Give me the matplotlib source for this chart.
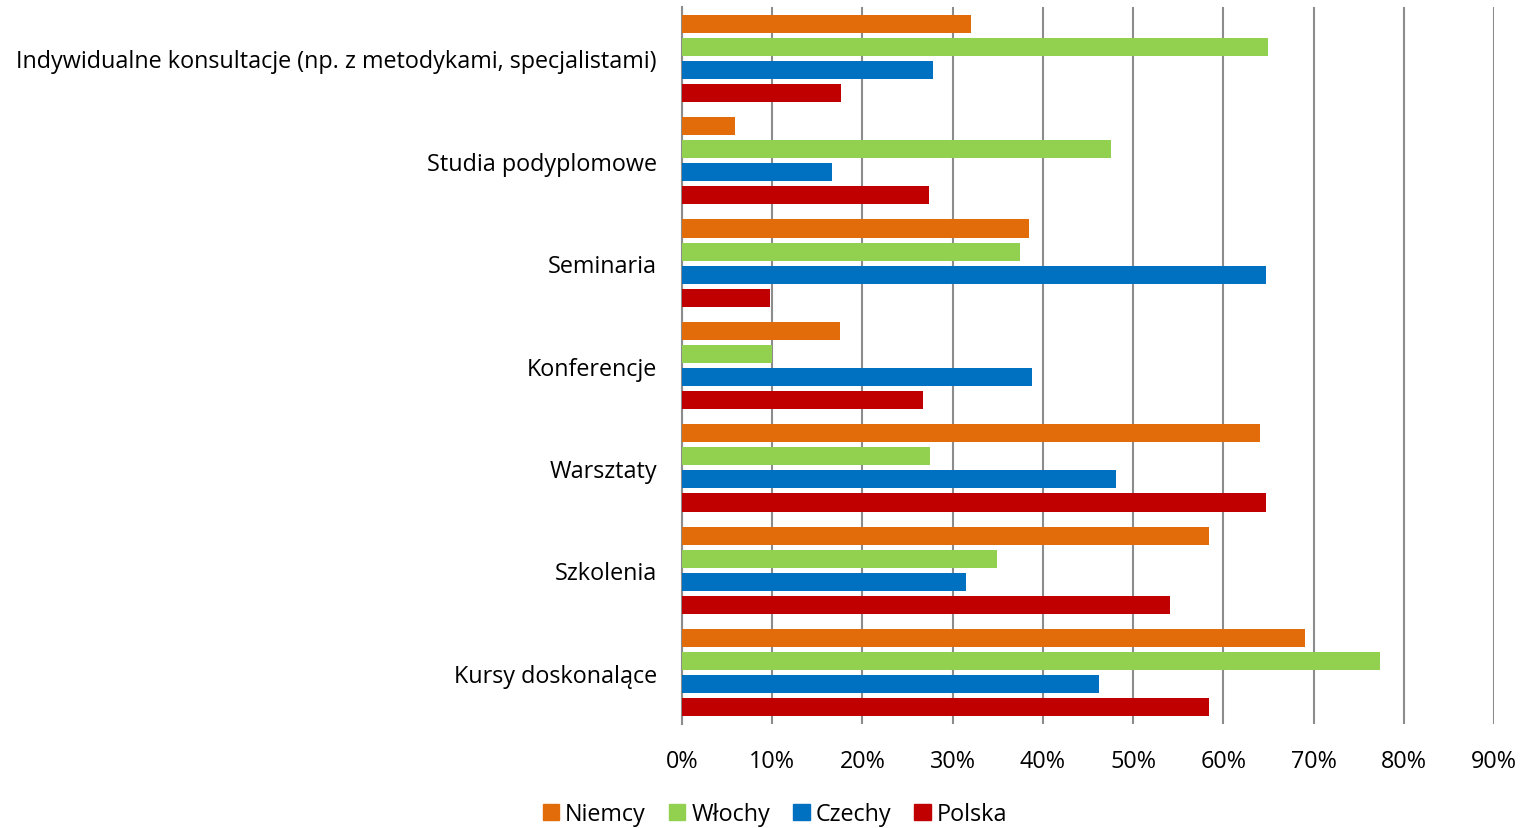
import matplotlib
matplotlib.use("Agg")
import matplotlib.pyplot as plt
import numpy as np
from matplotlib.patches import Patch
from matplotlib.ticker import FuncFormatter

categories = ["Indywidualne konsultacje (np. z metodykami, specjalistami)",
              "Studia podyplomowe", "Seminaria", "Konferencje",
              "Warsztaty", "Szkolenia", "Kursy doskonalące"]
series = ["Niemcy", "Włochy", "Czechy", "Polska"]
niemcy = [32.0, 5.9, 38.5, 17.5, 64.1, 58.4, 69.0]
wlochy = [65.0, 47.5, 37.5, 10.0, 27.5, 34.9, 77.4]
czechy = [27.8, 16.6, 64.7, 38.8, 48.1, 31.5, 46.2]
polska = [17.6, 27.4, 9.8, 26.7, 64.7, 54.1, 58.4]
values = [niemcy, wlochy, czechy, polska]
colors = ["#E36C0A", "#92D050", "#0070C0", "#C00000"]

plt.rcParams['font.family'] = ['Open Sans', 'DejaVu Sans']

fig = plt.figure(figsize=(15.25, 8.29), dpi=100)
ax = fig.add_axes([682/1525, 1-725/829, (1494-682)/1525, (725-8)/829])

n = len(categories)
y = np.arange(n)[::-1]  # top category at top
step = 0.225
h = 0.176
for i, (vals, c) in enumerate(zip(values, colors)):
    off = (-1.5 + i) * step
    ax.barh(y - off, vals, height=h, color=c, zorder=3, label=series[i])

ax.set_xlim(0, 90)
ax.set_ylim(-0.5, n - 0.5)
ax.set_xticks(np.arange(0, 91, 10))
ax.xaxis.set_major_formatter(FuncFormatter(lambda v, p: f"{int(v)}%"))
ax.set_yticks(y)
ax.set_yticklabels(categories)
ax.grid(axis='x', color='#8C8C8C', linewidth=1.5, zorder=0)
for s in ['top', 'right', 'bottom']:
    ax.spines[s].set_visible(False)
ax.spines['left'].set_color('#8C8C8C')
ax.spines['left'].set_linewidth(1.5)
ax.tick_params(axis='y', length=0, pad=18, labelsize=16.8, colors='#000000')
ax.tick_params(axis='x', length=0, pad=18, labelsize=16.8)

handles = [Patch(color=c, label=s) for c, s in zip(colors, series)]
fig.legend(handles=handles, loc='center', bbox_to_anchor=(775/1525, 1-815/829),
           ncol=4, frameon=False, fontsize=16.8, handlelength=0.7, handleheight=0.7,
           handletextpad=0.25, columnspacing=1.0)

fig.savefig("out.png", dpi=100)
